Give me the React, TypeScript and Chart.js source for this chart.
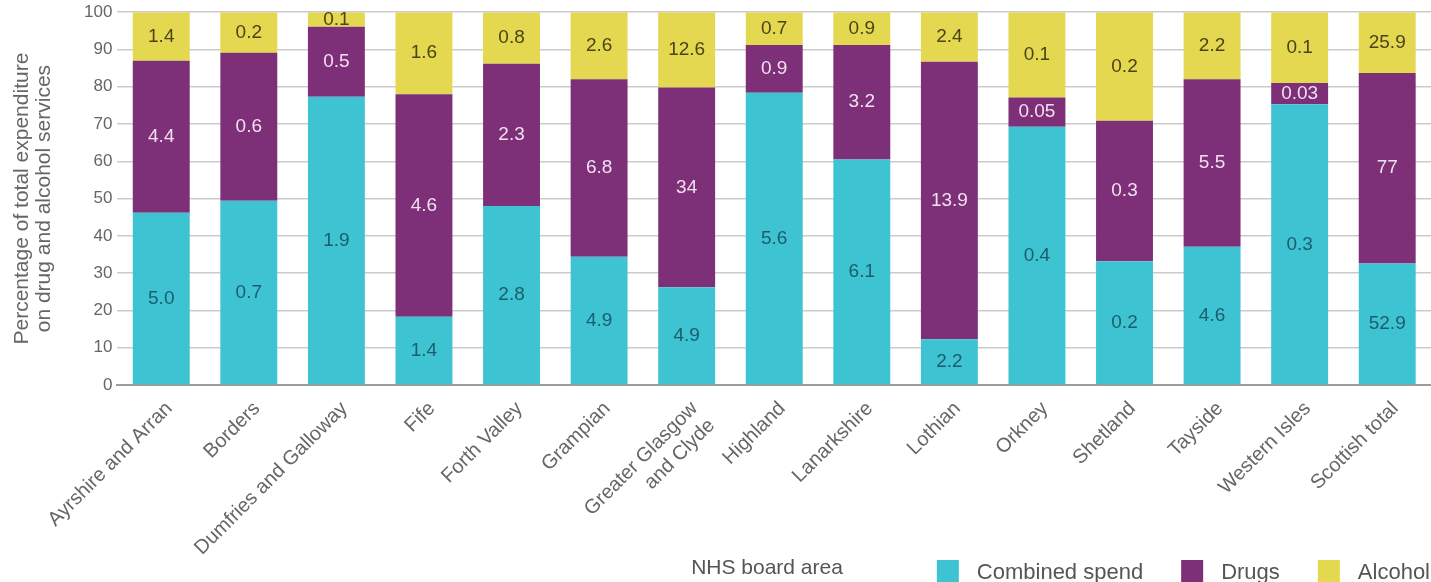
import React, { useEffect, useRef } from "react";
import { Chart, registerables } from "chart.js";

Chart.register(...registerables);

// NHS board areas
const boards: (string | string[])[] = [
  "Ayrshire and Arran",
  "Borders",
  "Dumfries and Galloway",
  "Fife",
  "Forth Valley",
  "Grampian",
  ["Greater Glasgow", "and Clyde"],
  "Highland",
  "Lanarkshire",
  "Lothian",
  "Orkney",
  "Shetland",
  "Tayside",
  "Western Isles",
  "Scottish total",
];

// Share of total drug and alcohol expenditure (%)
const combinedShare = [46.2, 49.4, 77.3, 18.3, 48.0, 34.4, 26.2, 78.4, 60.5, 12.3, 69.3, 33.2, 37.1, 75.3, 32.6];
const drugsShare = [40.8, 39.7, 18.8, 59.7, 38.2, 47.6, 53.6, 12.8, 30.7, 74.4, 7.8, 37.7, 44.9, 5.7, 51.1];
const alcoholShare = [13.0, 10.9, 3.9, 22.0, 13.8, 18.0, 20.2, 8.8, 8.8, 13.3, 22.9, 29.1, 18.0, 19.0, 16.3];

// Spend (£ million) printed inside each segment
const combinedSpend = ["5.0", "0.7", "1.9", "1.4", "2.8", "4.9", "4.9", "5.6", "6.1", "2.2", "0.4", "0.2", "4.6", "0.3", "52.9"];
const drugsSpend = ["4.4", "0.6", "0.5", "4.6", "2.3", "6.8", "34", "0.9", "3.2", "13.9", "0.05", "0.3", "5.5", "0.03", "77"];
const alcoholSpend = ["1.4", "0.2", "0.1", "1.6", "0.8", "2.6", "12.6", "0.7", "0.9", "2.4", "0.1", "0.2", "2.2", "0.1", "25.9"];

// Y axis
const yTicks = [0, 10, 20, 30, 40, 50, 60, 70, 80, 90, 100];
const yTitle = ["Percentage of total expenditure", "on drug and alcohol services"];
const xTitle = "NHS board area";

const FONT = "'Liberation Sans', Arial, Helvetica, sans-serif";

const TEAL = "#3dc3d2";
const PURPLE = "#7d3078";
const YELLOW = "#e3d84f";

const segmentLabelColours = ["#1c5d6c", "#f2e0f0", "#4a4418"];

// Canvas is lifted by this many pixels so the 100 line sits near the top edge
const LIFT = 3;

// Writes the spend figure in the middle of every bar segment
const segmentLabels = {
  id: "segmentLabels",
  afterDatasetsDraw(chart: any) {
    const ctx = chart.ctx;
    const texts = [combinedSpend, drugsSpend, alcoholSpend];
    ctx.save();
    ctx.font = `19px ${FONT}`;
    ctx.textAlign = "center";
    ctx.textBaseline = "middle";
    chart.data.datasets.forEach((_: any, di: number) => {
      const meta = chart.getDatasetMeta(di);
      ctx.fillStyle = segmentLabelColours[di];
      meta.data.forEach((bar: any, i: number) => {
        const y = (bar.y + bar.base) / 2;
        ctx.fillText(texts[di][i], bar.x, y);
      });
    });
    ctx.restore();
  },
};

// Bottom row: x axis title, then the legend aligned to the right edge
const bottomRow = {
  id: "bottomRow",
  afterDraw(chart: any) {
    const ctx = chart.ctx;
    const box = 22;
    const gap = 18;
    const itemGap = 38;
    const yMid = 571 + LIFT;
    ctx.save();
    ctx.textBaseline = "middle";

    ctx.font = `21px ${FONT}`;
    ctx.fillStyle = "#555";
    ctx.textAlign = "center";
    ctx.fillText(xTitle, 767, 568 + LIFT);

    ctx.font = `22px ${FONT}`;
    ctx.textAlign = "left";
    let x = chart.width - 1;
    const ds = chart.data.datasets.slice().reverse();
    ds.forEach((d: any) => {
      const w = ctx.measureText(d.label).width;
      const textX = x - w;
      const boxX = textX - gap - box;
      ctx.fillStyle = d.backgroundColor;
      ctx.fillRect(boxX, yMid - box / 2, box, box);
      ctx.fillStyle = "#555";
      ctx.fillText(d.label, textX, yMid + 2);
      x = boxX - itemGap;
    });
    ctx.restore();
  },
};

export default function App() {
  const canvasRef = useRef<HTMLCanvasElement | null>(null);

  useEffect(() => {
    if (!canvasRef.current) return;
    const chart = new Chart(canvasRef.current, {
      type: "bar",
      data: {
        labels: boards as any,
        datasets: [
          { label: "Combined spend", data: combinedShare, backgroundColor: TEAL },
          { label: "Drugs", data: drugsShare, backgroundColor: PURPLE },
          { label: "Alcohol", data: alcoholShare, backgroundColor: YELLOW },
        ],
      },
      options: {
        animation: false,
        responsive: false,
        events: [],
        layout: { padding: { top: 0, right: 0, bottom: 0, left: 11 } },
        datasets: {
          bar: { categoryPercentage: 1, barPercentage: 0.65, borderWidth: 0 },
        },
        plugins: {
          legend: { display: false },
          tooltip: { enabled: false },
        },
        scales: {
          x: {
            stacked: true,
            grid: { display: false, drawTicks: false },
            border: { display: true, color: "#9c9c9c", width: 2 },
            ticks: {
              color: "#666",
              font: { family: FONT, size: 20 },
              minRotation: 45,
              maxRotation: 45,
              autoSkip: false,
              padding: 12,
              labelOffset: 8,
            },
            afterFit(scale: any) {
              // leave the rotated labels room but keep the plot tall
              scale.height = 197;
            },
          },
          y: {
            stacked: true,
            min: 0,
            max: 100,
            afterBuildTicks(scale: any) {
              scale.ticks = yTicks.map((v) => ({ value: v }));
            },
            grid: { color: "#cbcbcb", lineWidth: 1.5, drawTicks: false },
            border: { display: false },
            ticks: {
              color: "#666",
              font: { family: FONT, size: 17 },
              padding: 5,
            },
            title: {
              display: true,
              text: yTitle,
              color: "#666",
              font: { family: FONT, size: 21, lineHeight: 1.05 },
              padding: { top: 0, bottom: 24 },
            },
          },
        },
      },
      plugins: [segmentLabels, bottomRow],
    });
    return () => chart.destroy();
  }, []);

  return (
    <div
      style={{
        position: "fixed",
        left: 0,
        top: 0,
        width: 1431,
        height: 582,
        overflow: "hidden",
        background: "#fff",
      }}
    >
      <canvas
        ref={canvasRef}
        width={1431}
        height={582 + LIFT}
        style={{ display: "block", marginTop: -LIFT }}
      />
    </div>
  );
}
